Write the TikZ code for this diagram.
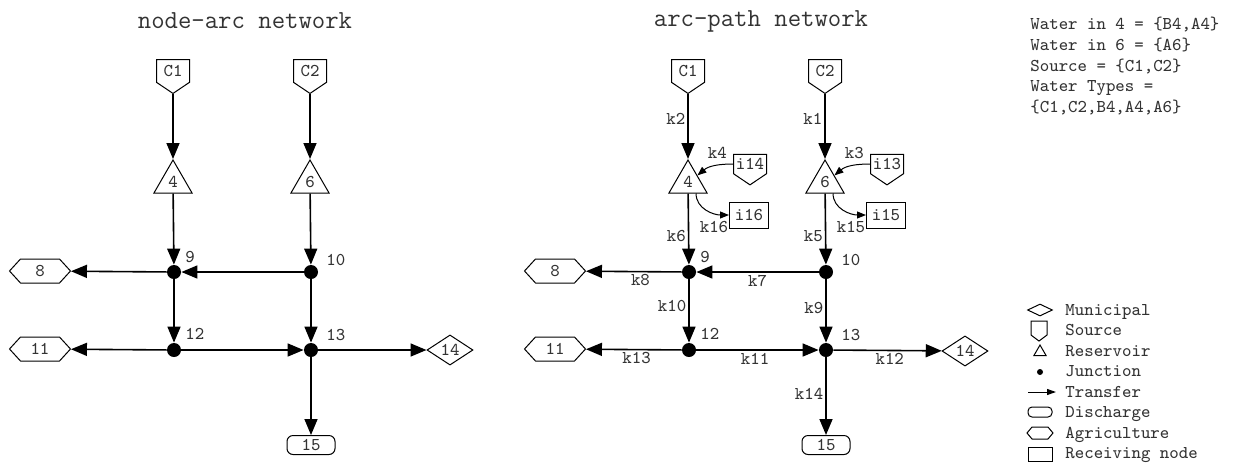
\documentclass[tikz,border=0pt]{standalone}
\usepackage{fontspec}
\usetikzlibrary{arrows.meta,shapes.geometric,shapes.symbols}

\tikzset{
  base/.style={draw, line width=0.5pt, inner sep=0pt, text=black!80},
  source/.style={base, signal, signal to=south, signal pointer angle=112,
    minimum width=16.5pt, minimum height=14.5pt},
  reservoir/.style={base, regular polygon, regular polygon sides=3, minimum size=22pt},
  junction/.style={circle, fill, inner sep=0pt, minimum size=7pt},
  jlbl/.style={anchor=base west, inner sep=0pt, text=black!80},
  agri/.style={base, signal, signal to=west and east, signal pointer angle=95,
    minimum width=30.5pt, minimum height=12pt},
  muni/.style={base, diamond, minimum width=23pt, minimum height=12.5pt},
  discharge/.style={base, rectangle, rounded corners=3pt, minimum width=24pt, minimum height=9.5pt},
  recv/.style={base, rectangle, minimum width=19.5pt, minimum height=13pt},
  flow/.style={-{Triangle[length=8pt,width=6.5pt]}, line width=0.8pt},
  tap/.style={-{Triangle[length=4.5pt,width=3.5pt]}, line width=0.5pt},
  arclbl/.style={inner sep=1pt, text=black!80},
  title/.style={font=\ttfamily\fontsize{13}{15}\selectfont, text=black!80},
  legtext/.style={anchor=base west, inner sep=0pt, text=black!80},
}

\begin{document}
\begin{tikzpicture}[x=0.5pt, y=-0.5pt, font=\ttfamily\fontsize{9}{11}\selectfont]
  \useasboundingbox (0,0) rectangle (1233,462);

  % node-arc network
  \node[title] (lt) at (245,21) {node-arc network};
  \node[source] (lc1) at (173,71) {C1};
  \node[source] (lc2) at (310,71) {C2};
  \node[reservoir] (l4) at (173,182) {4};
  \node[reservoir] (l6) at (310,182) {6};
  \node[junction] (l9) at (174,272) {};
  \node[junction] (l10) at (311,272) {};
  \node[junction] (l12) at (174,350) {};
  \node[junction] (l13) at (311,350) {};
  \node[jlbl] (ln9) at (185,262) {9};
  \node[jlbl] (ln10) at (326,265) {10};
  \node[jlbl] (ln12) at (185,339) {12};
  \node[jlbl] (ln13) at (326,340) {13};
  \node[agri] (l8) at (40,271) {8};
  \node[agri] (l11) at (40,349) {11};
  \node[muni] (l14) at (450,350) {14};
  \node[discharge] (l15) at (311,445) {15};

  \draw[flow] (lc1) -- (l4);
  \draw[flow] (lc2) -- (l6);
  \draw[flow] (l4) -- (l9);
  \draw[flow] (l6) -- (l10);
  \draw[flow] (l10) -- (l9);
  \draw[flow] (l9) -- (l8);
  \draw[flow] (l9) -- (l12);
  \draw[flow] (l10) -- (l13);
  \draw[flow] (l12) -- (l11);
  \draw[flow] (l12) -- (l13);
  \draw[flow] (l13) -- (l14);
  \draw[flow] (l13) -- (l15);

  % arc-path network
  \node[title] (rt) at (761,21) {arc-path network};
  \node[source] (rc1) at (688,71) {C1};
  \node[source] (rc2) at (825,71) {C2};
  \node[reservoir] (r4) at (688,182) {4};
  \node[reservoir] (r6) at (825,182) {6};
  \node[source] (ri14) at (750,164) {i14};
  \node[source] (ri13) at (887,164) {i13};
  \node[recv] (ri16) at (749,215) {i16};
  \node[recv] (ri15) at (886,215) {i15};
  \node[junction] (r9) at (689,272) {};
  \node[junction] (r10) at (826,272) {};
  \node[junction] (r12) at (689,350) {};
  \node[junction] (r13) at (826,350) {};
  \node[jlbl] (rn9) at (700,262) {9};
  \node[jlbl] (rn10) at (841,265) {10};
  \node[jlbl] (rn12) at (700,339) {12};
  \node[jlbl] (rn13) at (841,340) {13};
  \node[agri] (r8) at (555,271) {8};
  \node[agri] (r11) at (555,349) {11};
  \node[muni] (r14) at (965,351) {14};
  \node[discharge] (r15) at (826,445) {15};

  \draw[flow] (rc1) -- node[arclbl, left, pos=0.38] {k2} (r4);
  \draw[flow] (rc2) -- node[arclbl, left, pos=0.38] {k1} (r6);
  \draw[flow] (r4) -- node[arclbl, left, pos=0.6] {k6} (r9);
  \draw[flow] (r6) -- node[arclbl, left, pos=0.6] {k5} (r10);
  \draw[flow] (r10) -- node[arclbl, below, pos=0.5] {k7} (r9);
  \draw[flow] (r9) -- node[arclbl, below, pos=0.43] {k8} (r8);
  \draw[flow] (r9) -- node[arclbl, left, pos=0.42] {k10} (r12);
  \draw[flow] (r10) -- node[arclbl, left, pos=0.45] {k9} (r13);
  \draw[flow] (r12) -- node[arclbl, below, pos=0.47] {k13} (r11);
  \draw[flow] (r12) -- node[arclbl, below, pos=0.48] {k11} (r13);
  \draw[flow] (r13) -- node[arclbl, below, pos=0.52] {k12} (r14);
  \draw[flow] (r13) -- node[arclbl, left, pos=0.47] {k14} (r15);

  % inflows and outflows of the reservoirs
  \draw[tap] (ri14.west) to[out=180,in=40] node[arclbl, anchor=south, pos=0.4, yshift=2pt] {k4} (r4.35);
  \draw[tap] (ri13.west) to[out=180,in=40] node[arclbl, anchor=south, pos=0.4, yshift=2pt] {k3} (r6.35);
  \draw[tap] (r4.-55) to[out=-90,in=180] node[arclbl, anchor=north, pos=0.85, xshift=-4pt, yshift=-2pt] {k16} (ri16.west);
  \draw[tap] (r6.-55) to[out=-90,in=180] node[arclbl, anchor=north, pos=0.85, xshift=-4pt, yshift=-2pt] {k15} (ri15.west);

  % water sets
  \node[legtext] (w1) at (1030,29.5) {Water in 4 = \{B4,A4\}};
  \node[legtext] (w2) at (1030,50.3) {Water in 6 = \{A6\}};
  \node[legtext] (w3) at (1030,71) {Source = \{C1,C2\}};
  \node[legtext] (w4) at (1030,91.8) {Water Types =};
  \node[legtext] (w5) at (1030,112.6) {\{C1,C2,B4,A4,A6\}};

  % legend
  \node[muni, minimum width=12.5pt, minimum height=6pt] (gmuni) at (1040,310) {};
  \node[source, minimum width=8pt, minimum height=7pt, signal pointer angle=106] (gsrc) at (1039,328) {};
  \node[reservoir, minimum size=7pt] (gres) at (1040,352) {};
  \node[circle, fill, inner sep=0pt, minimum size=3pt] (gjun) at (1040,372) {};
  \coordinate (gtr1) at (1028,392);
  \coordinate (gtr2) at (1056,392);
  \draw[-{Triangle[length=4.5pt,width=3pt]}, line width=0.5pt] (gtr1) -- (gtr2);
  \node[discharge, minimum width=12pt, minimum height=5pt, rounded corners=2pt] (gdis) at (1040,412) {};
  \node[agri, minimum width=13pt, minimum height=6pt, signal pointer angle=100] (gagr) at (1040,433) {};
  \node[recv, minimum width=12pt, minimum height=7pt] (grec) at (1040,454) {};

  \node[legtext] (tmuni) at (1065,315) {Municipal};
  \node[legtext] (tsrc) at (1065,335.5) {Source};
  \node[legtext] (tres) at (1065,356) {Reservoir};
  \node[legtext] (tjun) at (1065,376.5) {Junction};
  \node[legtext] (ttr) at (1065,397) {Transfer};
  \node[legtext] (tdis) at (1065,417.5) {Discharge};
  \node[legtext] (tagr) at (1065,438) {Agriculture};
  \node[legtext] (trec) at (1065,458.5) {Receiving node};
\end{tikzpicture}
\end{document}
